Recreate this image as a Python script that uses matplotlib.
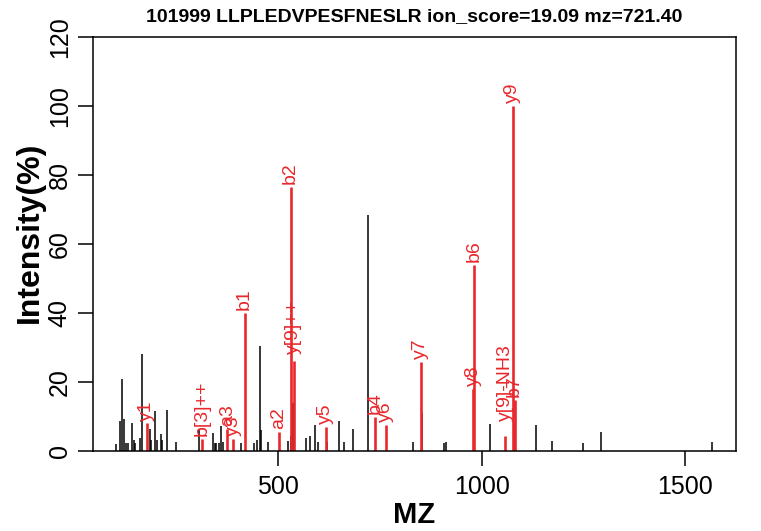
import matplotlib
matplotlib.use('Agg')
import matplotlib.pyplot as plt

plt.rcParams['font.family'] = ['Liberation Sans', 'DejaVu Sans']

# unmatched peaks (black)
mz_all = [103, 113, 117.5, 121.4, 127, 131, 142, 146, 149.5, 160, 166.6, 184.5,
          187, 199, 203.5, 211.5, 215.7, 228, 248.3, 305.5, 340, 344, 346.5, 356,
          360.5, 364.5, 409.7, 442, 449, 454.6, 457, 475, 524, 532.4, 536.3,
          567.5, 577.5, 592, 598.7, 620.8, 649, 663, 683, 720.5, 832, 854, 907,
          913, 982, 1021.7, 1083, 1134.7, 1173, 1249, 1292, 1566]
int_all = [2.0, 8.8, 20.8, 9.3, 2.2, 2.2, 8.2, 3.2, 2.2, 3.7, 28.0, 6.3,
           3.2, 11.7, 3.2, 4.8, 3.2, 11.9, 2.5, 6.3, 5.1, 2.2, 2.2, 2.4,
           7.1, 2.7, 2.4, 2.2, 3.3, 30.4, 6.1, 2.7, 3.0, 4.2, 14.0,
           3.7, 4.2, 7.4, 2.7, 2.6, 8.8, 2.5, 6.3, 68.4, 2.6, 10.9, 2.4,
           2.6, 18.0, 7.8, 7.1, 7.4, 2.9, 2.4, 5.6, 2.5]

# matched ions (red)
ion_labels = ['y1', 'b[3]++', 'a3', 'y3', 'b1', 'a2', 'b2', 'y[9]++', 'y5',
              'b4', 'y6', 'y7', 'y8', 'b6', 'y[9]-NH3', 'y9', 'b7']
ion_mz = [177, 314, 375, 390, 418, 502, 531, 539, 617,
          739, 764, 850, 979, 982, 1058, 1076, 1081]
ion_int = [8.0, 3.5, 6.4, 3.4, 40.0, 5.5, 76.6, 26.1, 7.0,
           9.9, 7.5, 25.8, 18.0, 53.9, 4.2, 100.0, 14.8]
label_gap = [2, 2, 2, 2, 2, 2, 2, 5, 2, 2, 2, 2, 2, 2, 11, 2, 2]

title = '101999 LLPLEDVPESFNESLR ion_score=19.09 mz=721.40'
red = '#e8282c'

fig = plt.figure(figsize=(7.61, 5.31), dpi=100)
ax = fig.add_axes([0.1216, 0.1507, 0.9671 - 0.1216, 0.9303 - 0.1507])

ax.vlines(mz_all, 0, int_all, colors='black', linewidth=1.1)
ax.vlines(ion_mz, 0, ion_int, colors=red, linewidth=1.9)
for lab, x, y, g in zip(ion_labels, ion_mz, ion_int, label_gap):
    ax.annotate(lab, (x, y), xytext=(0, g), textcoords='offset points',
                rotation=90, ha='center', va='bottom', color=red, fontsize=14)

lo, hi = min(mz_all), max(mz_all)
pad = 0.04 * (hi - lo)
ax.set_xlim(lo - pad, hi + pad)
ax.set_ylim(0, 120)
ax.set_xticks([500, 1000, 1500])
ax.set_yticks([0, 20, 40, 60, 80, 100, 120])
ax.tick_params(axis='both', direction='out', length=11, width=1.1, labelsize=18)
ax.tick_params(axis='x', pad=6)
ax.tick_params(axis='y', pad=4)
for lbl in ax.get_yticklabels():
    lbl.set_rotation(90)
    lbl.set_va('center')
for s in ax.spines.values():
    s.set_linewidth(1.1)

fig.text(0.544, 1 - 17 / 531, title, ha='center', va='center',
         fontsize=14, fontweight='bold')
fig.text(0.544, 1 - 515 / 531, 'MZ', ha='center', va='center',
         fontsize=21, fontweight='bold')
fig.text(30 / 761, 1 - 232 / 531, 'Intensity(%)', ha='center', va='center',
         rotation=90, fontsize=23, fontweight='bold')

fig.savefig('out.png', dpi=100)
